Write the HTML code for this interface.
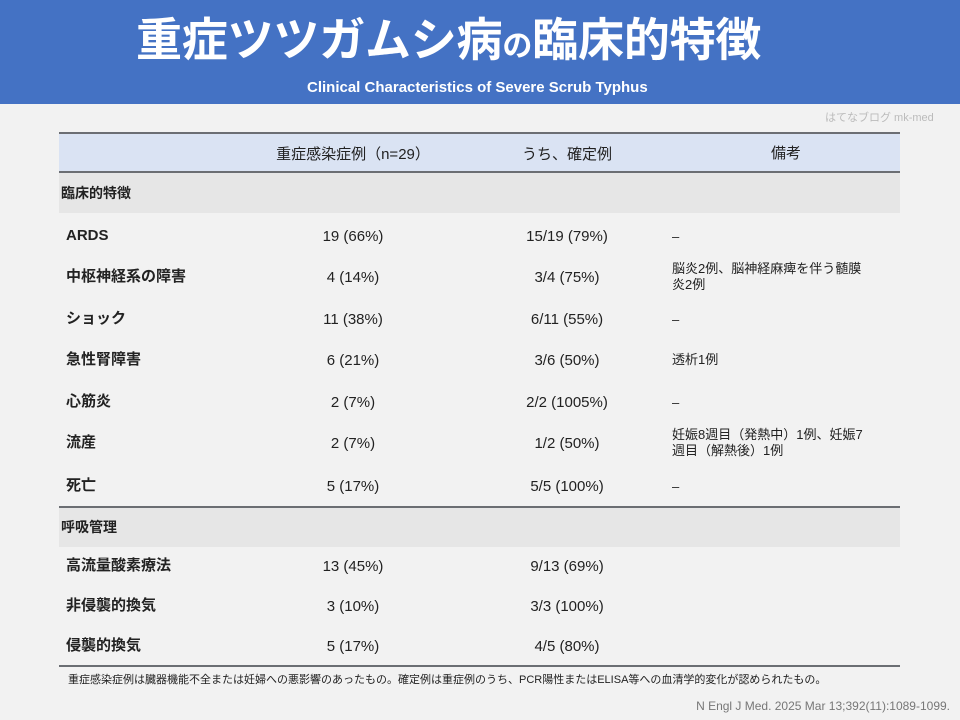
<!DOCTYPE html>
<html><head><meta charset="utf-8"><style>
*{margin:0;padding:0;box-sizing:border-box}
body{width:960px;height:720px;background:#f2f2f2;position:relative;overflow:hidden;font-family:"Liberation Sans","Noto Sans CJK JP",sans-serif;color:#222}
.a{position:absolute;white-space:nowrap}
#hdr{position:absolute;left:0;top:0;width:960px;height:104px;background:#4472c4}
.t{color:#fff;font-weight:bold}
.line{position:absolute;left:59px;width:841px;height:2px;background:#6b6e73}
.c1{left:66px;font-weight:bold;font-size:15px;line-height:20px;margin-top:-1px}
.c2{left:253px;width:200px;text-align:center;font-size:15px;line-height:20px;margin-top:1px}
.c3{left:467px;width:200px;text-align:center;font-size:15px;line-height:20px;margin-top:1px}
.c4{left:672px;font-size:13px;line-height:16px}
</style></head><body>
<div id="hdr"></div>
<div class="a t" style="left:136px;top:4px;font-size:46px;letter-spacing:-0.2px">重症ツツガムシ病<span style="font-size:30px">の</span>臨床的特徴</div>
<div class="a t" style="left:307px;top:79px;font-size:15px;line-height:18px">Clinical Characteristics of Severe Scrub Typhus</div>
<div class="a" style="left:825px;top:109px;font-size:11px;color:#bbb">はてなブログ mk-med</div>

<div class="a" style="left:59px;top:133px;width:841px;height:40px;background:#dae3f3"></div>
<div class="a" style="left:59px;top:173px;width:841px;height:40px;background:#e6e6e6"></div>
<div class="a" style="left:59px;top:507px;width:841px;height:40px;background:#e6e6e6"></div>
<div class="line" style="top:132px"></div>
<div class="line" style="top:171px"></div>
<div class="line" style="top:506px"></div>
<div class="line" style="top:665px"></div>

<div class="a c2" style="top:144px">重症感染症例（n=29）</div>
<div class="a c3" style="top:144px">うち、確定例</div>
<div class="a" style="left:686px;width:200px;text-align:center;top:144px;font-size:15px;line-height:20px">備考</div>
<div class="a" style="left:61px;top:183px;font-size:14px;font-weight:bold;line-height:20px">臨床的特徴</div>
<div class="a" style="left:61px;top:517px;font-size:14px;font-weight:bold;line-height:20px">呼吸管理</div>

<div><div class="a c1" style="top:227px">ARDS</div><div class="a c2" style="top:226px">19 (66%)</div><div class="a c3" style="top:226px">15/19 (79%)</div><div class="a c4" style="top:229px">–</div></div>
<div><div class="a c1" style="top:268px">中枢神経系の障害</div><div class="a c2" style="top:267px">4 (14%)</div><div class="a c3" style="top:267px">3/4 (75%)</div><div class="a c4" style="top:261px">脳炎2例、脳神経麻痺を伴う髄膜<br>炎2例</div></div>
<div><div class="a c1" style="top:310px">ショック</div><div class="a c2" style="top:309px">11 (38%)</div><div class="a c3" style="top:309px">6/11 (55%)</div><div class="a c4" style="top:312px">–</div></div>
<div><div class="a c1" style="top:351px">急性腎障害</div><div class="a c2" style="top:350px">6 (21%)</div><div class="a c3" style="top:350px">3/6 (50%)</div><div class="a c4" style="top:352px">透析1例</div></div>
<div><div class="a c1" style="top:393px">心筋炎</div><div class="a c2" style="top:392px">2 (7%)</div><div class="a c3" style="top:392px">2/2 (1005%)</div><div class="a c4" style="top:395px">–</div></div>
<div><div class="a c1" style="top:434px">流産</div><div class="a c2" style="top:433px">2 (7%)</div><div class="a c3" style="top:433px">1/2 (50%)</div><div class="a c4" style="top:427px">妊娠8週目（発熱中）1例、妊娠7<br>週目（解熱後）1例</div></div>
<div><div class="a c1" style="top:477px">死亡</div><div class="a c2" style="top:476px">5 (17%)</div><div class="a c3" style="top:476px">5/5 (100%)</div><div class="a c4" style="top:479px">–</div></div>
<div><div class="a c1" style="top:557px">高流量酸素療法</div><div class="a c2" style="top:556px">13 (45%)</div><div class="a c3" style="top:556px">9/13 (69%)</div></div>
<div><div class="a c1" style="top:597px">非侵襲的換気</div><div class="a c2" style="top:596px">3 (10%)</div><div class="a c3" style="top:596px">3/3 (100%)</div></div>
<div><div class="a c1" style="top:637px">侵襲的換気</div><div class="a c2" style="top:636px">5 (17%)</div><div class="a c3" style="top:636px">4/5 (80%)</div></div>

<div class="a" style="left:68px;top:672px;font-size:11px;line-height:16px">重症感染症例は臓器機能不全または妊婦への悪影響のあったもの。確定例は重症例のうち、PCR陽性またはELISA等への血清学的変化が認められたもの。</div>
<div class="a" style="right:10px;top:698px;font-size:12px;line-height:16px;color:#777">N Engl J Med. 2025 Mar 13;392(11):1089-1099.</div>
</body></html>
